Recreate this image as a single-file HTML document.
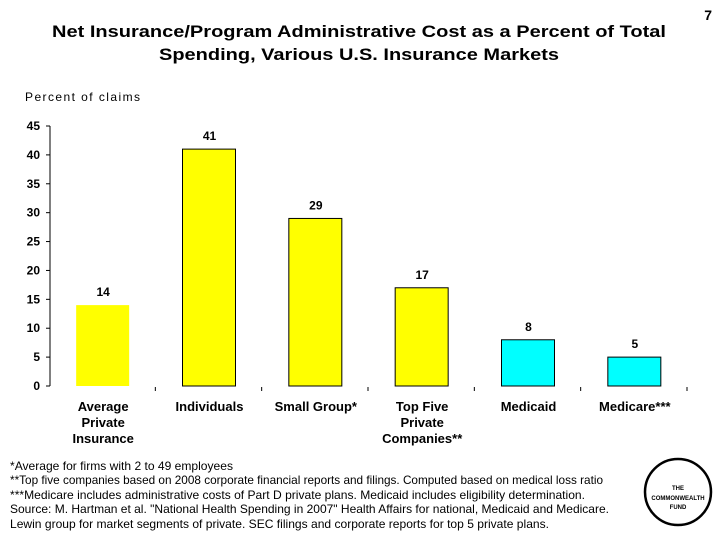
<!DOCTYPE html>
<html><head><meta charset="utf-8"><style>
body{margin:0;background:#fff;}
svg{display:block;font-family:"Liberation Sans",Arial,sans-serif;}
</style></head><body>
<svg width="720" height="540">
<text x="52" y="37" textLength="614" lengthAdjust="spacingAndGlyphs" font-size="17" font-weight="bold">Net Insurance/Program Administrative Cost as a Percent of Total</text>
<text x="159" y="60" textLength="400" lengthAdjust="spacingAndGlyphs" font-size="17" font-weight="bold">Spending, Various U.S. Insurance Markets</text>
<text x="712" y="20" text-anchor="end" font-size="14" font-weight="bold">7</text>
<text x="25" y="101" textLength="115" lengthAdjust="spacing" font-size="12">Percent of claims</text>
<g id="plot"></g>
<g font-size="12">
<text x="10" y="470" textLength="223" lengthAdjust="spacingAndGlyphs">*Average for firms with 2 to 49 employees</text>
<text x="10" y="484" textLength="593" lengthAdjust="spacingAndGlyphs">**Top five companies based on 2008 corporate financial reports and filings. Computed based on medical loss ratio</text>
<text x="10" y="499" textLength="575" lengthAdjust="spacingAndGlyphs">***Medicare includes administrative costs of Part D private plans.  Medicaid includes eligibility determination.</text>
<text x="10" y="513" textLength="599" lengthAdjust="spacingAndGlyphs">Source: M. Hartman et al. "National Health Spending in 2007" Health Affairs for national, Medicaid and Medicare.</text>
<text x="10" y="528" textLength="539" lengthAdjust="spacingAndGlyphs">Lewin group for market segments of private.  SEC filings and corporate reports for top 5 private plans.</text>
</g>
<g>
<circle cx="678" cy="492" r="33" fill="none" stroke="#000" stroke-width="2.5"/>
<text x="678" y="490" text-anchor="middle" font-size="6" font-weight="bold">THE</text>
<text x="678" y="500" text-anchor="middle" font-size="6" font-weight="bold">COMMONWEALTH</text>
<text x="678" y="509" text-anchor="middle" font-size="6" font-weight="bold">FUND</text>
</g>
</svg>
<script>
const categories=[["Average","Private","Insurance"],["Individuals"],["Small Group*"],["Top Five","Private","Companies**"],["Medicaid"],["Medicare***"]];
const values=[14,41,29,17,8,5];
const colors=["#ffff00","#ffff00","#ffff00","#ffff00","#00ffff","#00ffff"];
const yTicks=[0,5,10,15,20,25,30,35,40,45];
const NS="http://www.w3.org/2000/svg";
const g=document.getElementById('plot');
const x0=50,x1=688,y0=386,y1=126,yMax=45;
const y=v=>y0-(v/yMax)*(y0-y1);
const bw=(x1-x0)/categories.length;
function mk(t,a,p){const e=document.createElementNS(NS,t);for(const k in a)e.setAttribute(k,a[k]);(p||g).appendChild(e);return e;}
const ax=mk('line',{x1:x0,y1:y1,x2:x0,y2:y0,stroke:'#000'});


yTicks.forEach(t=>{
 const l=mk('line',{x1:x0-4,x2:x0,y1:y(t),y2:y(t),stroke:'#000'});
 
 
 const tx=mk('text',{x:x0-10,y:y(t)+4,'text-anchor':'end','font-size':12,'font-weight':'bold'});
 tx.textContent=t;
 
 
});
for(let i=1;i<=categories.length;i++){
 const xt=x0+i*bw-1;
 const l=mk('line',{x1:xt,x2:xt,y1:y0+1,y2:y0+5,stroke:'#000'});
 
 
}
values.forEach((v,i)=>{
 const cx=x0+bw*(i+0.5);
 const r=mk('rect',{x:cx-27,y:y(v),width:53,height:y0-y(v),fill:colors[i],stroke:i===0?'none':'#000','stroke-width':1});
 
 
 const vt=mk('text',{x:cx,y:y(v)-9,'text-anchor':'middle','font-size':12,'font-weight':'bold'});
 vt.textContent=v;
 
 
 categories[i].forEach((s,j)=>{
  const ct=mk('text',{x:cx,y:411+j*16,'text-anchor':'middle','font-size':13,'font-weight':'bold'});
  ct.textContent=s;
  
  
 });
});
</script>
</body></html>
